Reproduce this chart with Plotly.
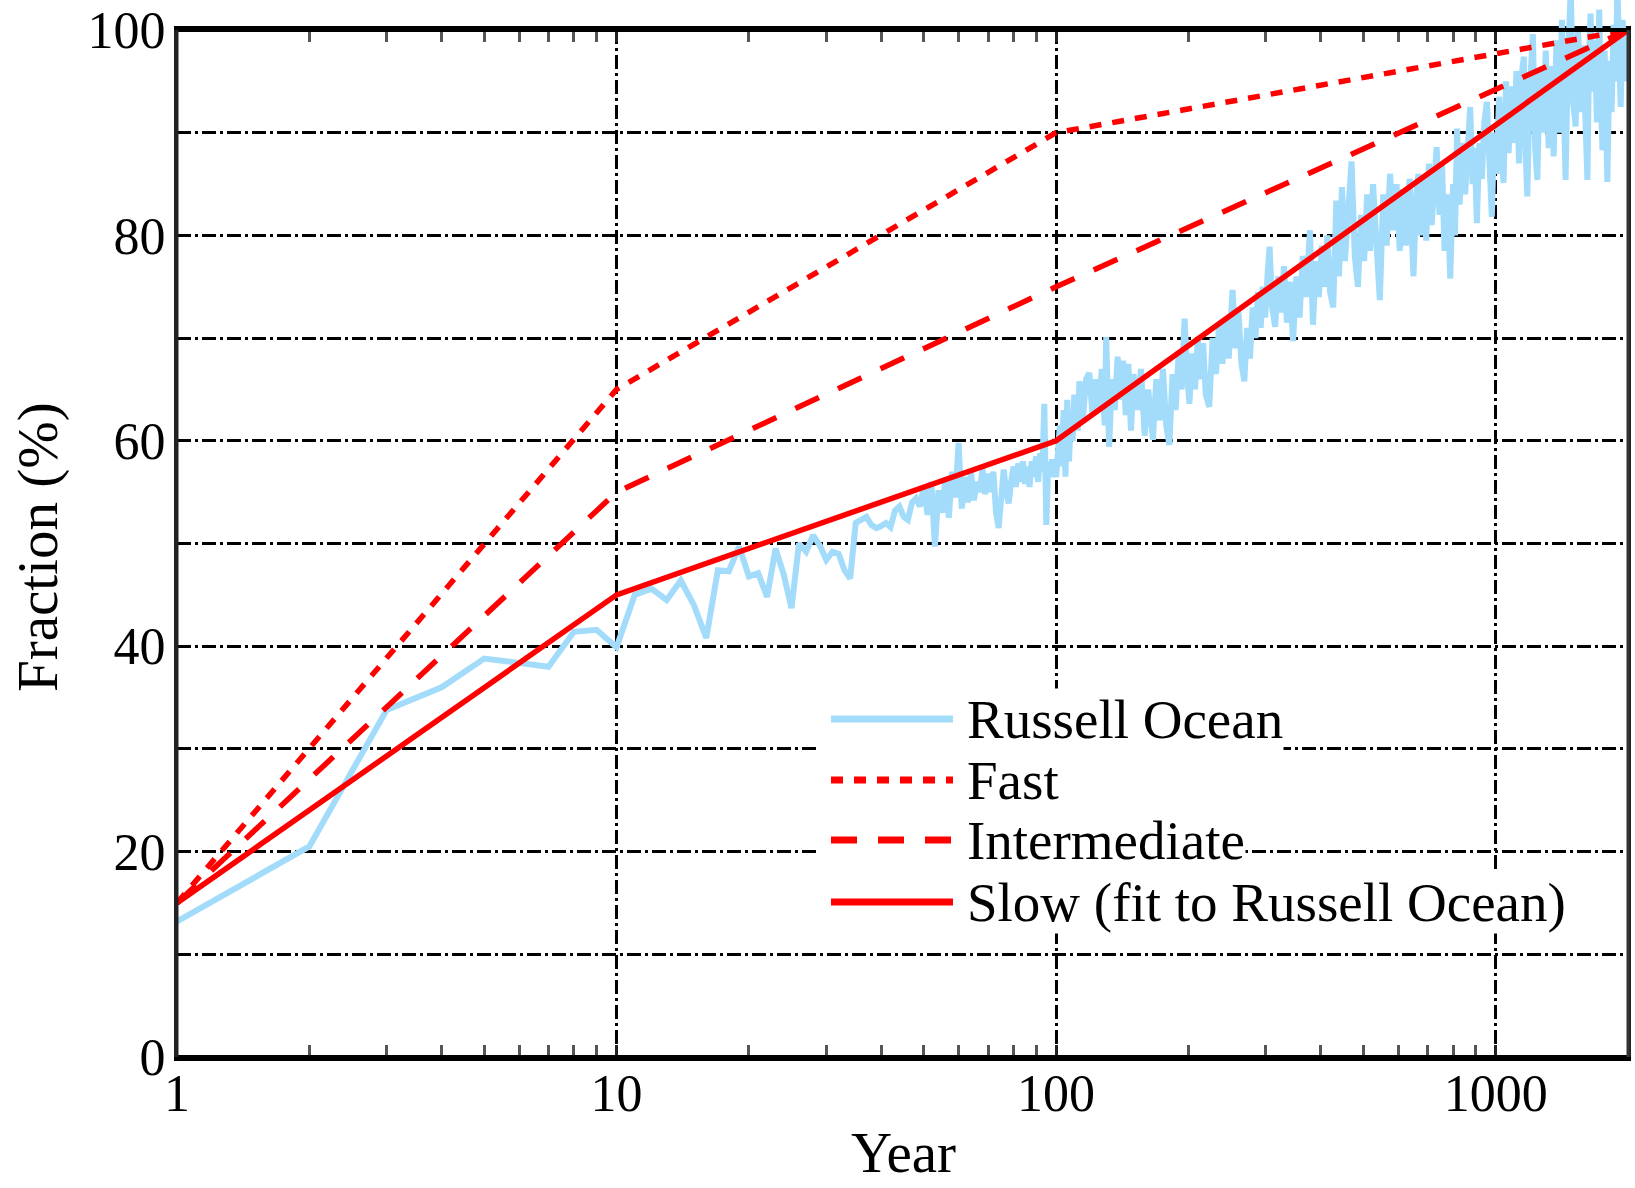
import math
import plotly.graph_objects as go

# ---------------- data ----------------
model_years = [1, 10, 100, 2000]
fast_vals = [15, 65, 90, 100]
intermediate_vals = [15, 55, 75, 100]
slow_vals = [15, 45, 60, 100]

russell_years = [
    1, 2, 3, 4, 5, 6, 7, 8, 9, 10, 11, 12, 13, 14, 15, 16, 17, 18, 19, 20,
    21, 22, 23, 24, 25, 26, 27, 28, 29, 30, 31, 32, 33, 34, 35, 36, 37, 38, 39, 40,
    41, 42, 43, 44, 45, 46, 47, 48, 49, 50, 51, 52, 53, 54, 55, 56, 57, 58, 59, 60,
    61, 62, 63, 64, 65, 66, 67, 68, 69, 70, 71, 72, 73, 74, 75, 76, 77, 78, 79, 80,
    81, 82, 83, 84, 85, 86, 87, 88, 89, 90, 91, 92, 93, 94, 95, 96, 97, 98, 99, 100,
    101, 102, 103, 104, 105, 106, 107, 108, 109, 110, 112, 113, 115, 117, 119, 121, 123, 125, 127, 129,
    130, 131, 132, 134, 136, 138, 140, 142, 144, 146, 148, 150, 153, 156, 159, 162, 166, 169, 172, 175,
    178, 181, 184, 187, 190, 193, 196, 199, 201, 204, 207, 210, 213, 216, 219, 223, 227, 231, 235, 239,
    243, 247, 252, 256, 260, 264, 268, 272, 276, 280, 284, 288, 292, 295, 299, 303, 306, 310, 315, 320,
    325, 330, 335, 340, 346, 352, 358, 364, 370, 378, 384, 390, 396, 402, 408, 414, 420, 427, 434, 440,
    447, 454, 462, 470, 478, 486, 494, 502, 510, 518, 526, 534, 545, 555, 565, 575, 585, 595, 605, 615,
    625, 637, 650, 660, 667, 675, 685, 695, 705, 715, 725, 734, 745, 755, 765, 777, 788, 800, 808, 817,
    828, 840, 852, 864, 875, 886, 896, 906, 918, 930, 942, 955, 967, 980, 992, 1005, 1018, 1030, 1042, 1056,
    1070, 1085, 1100, 1115, 1130, 1145, 1159, 1170, 1180, 1195, 1215, 1230, 1244, 1260, 1280, 1300, 1320, 1340, 1355, 1375,
    1395, 1415, 1430, 1442, 1460, 1482, 1500, 1520, 1540, 1560, 1580, 1600, 1617, 1630, 1644, 1660, 1680, 1700, 1720, 1735,
    1750, 1770, 1795, 1815, 1835, 1855, 1875, 1892, 1910, 1925, 1945, 1965, 1985, 2000,
]
russell_vals = [
    13.2, 20.5, 33.8, 36.0, 38.8, 38.3, 38.0, 41.4, 41.6, 39.9, 45.0, 45.6, 44.5, 46.4, 44.0, 40.8, 47.4, 47.3, 49.7, 46.8,
    47.1, 44.8, 49.5, 47.0, 43.7, 50.0, 49.2, 50.8, 49.8, 48.4, 49.2, 49.0, 47.4, 46.6, 52.0, 52.3, 52.6, 51.8, 51.5, 51.7,
    52.0, 51.6, 53.2, 53.6, 52.6, 52.3, 54.0, 54.4, 53.6, 55.5, 52.8, 56.0, 49.7, 55.2, 53.0, 56.4, 52.5, 57.0, 54.5, 59.8,
    53.4, 56.5, 54.0, 57.0, 54.2, 56.0, 55.0, 57.3, 54.8, 56.8, 55.0, 57.0, 53.0, 51.5, 55.5, 57.2, 55.0, 53.9, 56.0, 57.5,
    55.5, 57.8, 56.0, 58.0, 55.8, 57.5, 55.5, 58.0, 56.5, 58.5, 56.0, 58.8, 57.0, 63.6, 51.8, 58.0, 56.5, 58.2, 57.0, 56.5,
    59.0, 61.5, 57.5, 63.0, 56.5, 64.0, 58.0, 62.5, 60.0, 64.5, 61.0, 65.8, 62.0, 66.0, 66.6, 62.5, 66.0, 63.0, 67.0, 61.5,
    70.1, 62.0, 59.4, 66.0, 63.0, 68.2, 64.0, 67.8, 62.5, 67.5, 61.0, 66.5, 63.0, 67.0, 60.5, 65.0, 60.1, 66.0, 62.0, 67.0,
    61.5, 59.6, 66.5, 63.0, 68.5, 65.0, 71.9, 66.0, 63.6, 68.5, 65.0, 70.0, 66.0, 69.5, 64.5, 63.3, 70.0, 66.5, 71.5, 67.5,
    72.0, 68.0, 74.7, 69.0, 72.5, 67.5, 65.8, 71.0, 68.0, 73.0, 70.0, 74.5, 71.0, 75.0, 72.0, 76.5, 78.9, 73.0, 71.1, 76.0,
    72.5, 77.0, 71.5, 75.5, 69.7, 76.0, 72.0, 78.0, 74.0, 80.5, 71.3, 77.5, 74.0, 79.0, 75.0, 80.0, 74.5, 73.0, 83.4, 76.0,
    84.7, 77.5, 82.0, 87.2, 78.0, 75.0, 82.0, 77.5, 84.0, 78.5, 85.0, 79.0, 73.7, 84.0, 79.0, 86.0, 80.5, 85.0, 78.5, 84.5,
    79.0, 85.5, 76.0, 84.0, 86.0, 80.0, 85.5, 79.5, 87.0, 81.0, 86.5, 88.6, 82.0, 87.0, 78.5, 84.0, 75.8, 85.0, 80.0, 90.4,
    83.0, 89.0, 84.0, 90.0, 92.5, 85.0, 88.5, 81.2, 89.0, 85.5, 91.0, 93.0, 86.5, 81.8, 90.0, 86.0, 93.5, 87.5, 85.1, 95.0,
    88.0, 94.5, 89.0, 96.0, 87.0, 95.5, 97.4, 88.0, 83.8, 94.0, 99.6, 88.5, 85.4, 96.0, 90.0, 98.0, 88.5, 96.5, 87.7, 99.0,
    90.0, 101.0, 89.0, 85.4, 97.0, 104.0, 93.0, 90.6, 100.0, 92.0, 98.5, 88.0, 85.4, 97.0, 101.6, 94.0, 99.0, 91.0, 102.0, 93.0,
    88.3, 98.0, 85.2, 97.0, 92.0, 100.5, 95.0, 104.0, 96.0, 92.5, 101.0, 95.0, 100.0, 96.0,
]

x_tick_vals = [1, 10, 100, 1000]
x_tick_text = ["1", "10", "100", "1000"]
x_minor_vals = [2, 3, 4, 5, 6, 7, 8, 9, 20, 30, 40, 50, 60, 70, 80, 90,
                200, 300, 400, 500, 600, 700, 800, 900]
y_tick_vals = [0, 20, 40, 60, 80, 100]
y_minor_vals = [10, 30, 50, 70, 90]

legend_names = ["Russell Ocean", "Fast", "Intermediate", "Slow (fit to Russell Ocean)"]

# ---------------- geometry ----------------
W, H = 1635, 1188
ML, MR, MT, MB = 177, 7, 0, 131
PW = W - ML - MR
PH = H - MT - MB
PLOT_TOP_PX = 30
YTOP = 1 - PLOT_TOP_PX / PH  # main y domain top (paper)
X_MAX = 2000
X_RANGE = [0, math.log10(X_MAX)]

BLUE = "#a3dcfa"
RED = "#ff0000"
SERIF = "Liberation Serif, Times New Roman, serif"
GRID_DASH = "14px,4px,3px,4px"


def px_x(px):
    return (px - ML) / PW


def px_y(py):
    return (H - MB - py) / PH


fig = go.Figure()

# invisible anchor trace so the main (grid / tick) subplot is drawn
fig.add_trace(go.Scatter(x=model_years, y=slow_vals, mode="lines",
                         line=dict(color="rgba(0,0,0,0)", width=0), hoverinfo="skip",
                         xaxis="x", yaxis="y", showlegend=False))

fig.add_trace(go.Scatter(x=russell_years, y=russell_vals, mode="lines",
                         line=dict(color=BLUE, width=6), name=legend_names[0],
                         xaxis="x2", yaxis="y2", showlegend=False))
fig.add_trace(go.Scatter(x=model_years, y=fast_vals, mode="lines",
                         line=dict(color=RED, width=5.5, dash="12px,11px"), name=legend_names[1],
                         xaxis="x2", yaxis="y2", showlegend=False))
fig.add_trace(go.Scatter(x=model_years, y=intermediate_vals, mode="lines",
                         line=dict(color=RED, width=5.5, dash="26px,21px"), name=legend_names[2],
                         xaxis="x2", yaxis="y2", showlegend=False))
fig.add_trace(go.Scatter(x=model_years, y=slow_vals, mode="lines",
                         line=dict(color=RED, width=5.5), name=legend_names[3],
                         xaxis="x2", yaxis="y2", showlegend=False))

tickfont = dict(family=SERIF, size=52, color="black")

fig.update_layout(
    template="none",
    width=W, height=H,
    margin=dict(l=ML, r=MR, t=MT, b=MB, autoexpand=False),
    paper_bgcolor="white",
    plot_bgcolor="rgba(0,0,0,0)",
    showlegend=False,
    xaxis=dict(
        type="log", range=X_RANGE, domain=[0, 1], anchor="y", automargin=False,
        tickmode="array", tickvals=x_tick_vals, ticktext=x_tick_text,
        ticks="inside", ticklen=12, tickwidth=2.5, tickcolor="#222",
        showgrid=True, gridcolor="black", gridwidth=2.5, griddash=GRID_DASH,
        showline=True, linecolor="black", linewidth=4, mirror="ticks",
        minor=dict(tickvals=x_minor_vals, ticks="inside", ticklen=12, tickwidth=2.5,
                   tickcolor="#555", showgrid=False),
        tickfont=tickfont, zeroline=False, ticklabelstandoff=-12,
    ),
    yaxis=dict(
        range=[0, 100], domain=[0, YTOP], anchor="x", automargin=False,
        tickmode="array", tickvals=y_tick_vals, ticks="",
        showgrid=True, gridcolor="black", gridwidth=2.5, griddash=GRID_DASH,
        minor=dict(tickvals=y_minor_vals, ticks="", showgrid=True, gridcolor="black",
                   gridwidth=2.5, griddash=GRID_DASH),
        showline=True, linecolor="#222", linewidth=3, mirror=True,
        tickfont=tickfont, zeroline=False, ticklabelstandoff=-2,
    ),
    xaxis2=dict(type="log", range=X_RANGE, domain=[0, 1], anchor="y2",
                visible=False, showgrid=False, automargin=False),
    yaxis2=dict(range=[0, 100 / YTOP], domain=[0, 1], anchor="x2", visible=False,
                showgrid=False, automargin=False),
)

shapes = []
# frame above everything
shapes.append(dict(type="line", xref="paper", yref="paper", x0=-0.001, x1=1.001, y0=0, y1=0,
                   line=dict(color="black", width=4), layer="above"))
shapes.append(dict(type="line", xref="paper", yref="paper", x0=-0.001, x1=1.001, y0=YTOP, y1=YTOP,
                   line=dict(color="black", width=4), layer="above"))
shapes.append(dict(type="line", xref="paper", yref="paper", x0=0, x1=0, y0=0, y1=YTOP,
                   line=dict(color="#222", width=3), layer="above"))
shapes.append(dict(type="line", xref="paper", yref="paper", x0=1, x1=1, y0=0, y1=YTOP,
                   line=dict(color="#333", width=3), layer="above"))

# custom legend
row_y = [719, 780, 840, 902]
row_styles = [dict(color=BLUE, width=7), dict(color=RED, width=7, dash="12px,11px"),
              dict(color=RED, width=7, dash="26px,21px"), dict(color=RED, width=7)]
annotations = []
for name, ry, st in zip(legend_names, row_y, row_styles):
    shapes.append(dict(type="rect", xref="paper", yref="paper",
                       x0=px_x(819), x1=px_x(972), y0=px_y(ry + 31), y1=px_y(ry - 31),
                       fillcolor="white", line=dict(width=0), layer="above"))
    shapes.append(dict(type="line", xref="paper", yref="paper",
                       x0=px_x(831), x1=px_x(953), y0=px_y(ry), y1=px_y(ry),
                       line=st, layer="above"))
    annotations.append(dict(text=name, xref="paper", yref="paper", x=px_x(966), y=px_y(ry),
                            xanchor="left", yanchor="middle", showarrow=False,
                            font=dict(family=SERIF, size=55, color="black"),
                            bgcolor="white", borderpad=0))

# axis titles
annotations.append(dict(text="Fraction (%)", xref="paper", yref="paper", x=px_x(38), y=px_y(547),
                        xanchor="center", yanchor="middle", textangle=-90, showarrow=False,
                        font=dict(family=SERIF, size=57, color="black")))
annotations.append(dict(text="Year", xref="paper", yref="paper", x=px_x(903), y=px_y(1152),
                        xanchor="center", yanchor="middle", showarrow=False,
                        font=dict(family=SERIF, size=57, color="black")))

fig.update_layout(shapes=shapes, annotations=annotations)

fig.write_html("out.html")
